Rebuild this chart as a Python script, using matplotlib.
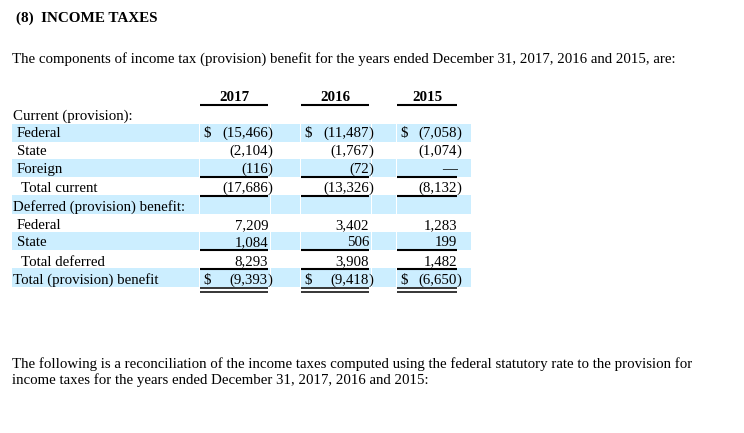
import matplotlib.pyplot as plt
from matplotlib.patches import Rectangle

W, H = 744, 433
SERIF = ["Liberation Serif", "DejaVu Serif"]
SHADE = "#CCEEFF"

years = ["2017", "2016", "2015"]
row_labels = ["Current (provision):", "Federal", "State", "Foreign", "Total current",
              "Deferred (provision) benefit:", "Federal", "State", "Total deferred",
              "Total (provision) benefit"]
federal_current = [-15466, -11487, -7058]
state_current = [-2104, -1767, -1074]
foreign_current = [-116, -72, None]
total_current = [-17686, -13326, -8132]
federal_deferred = [7209, 3402, 1283]
state_deferred = [1084, 506, 199]
total_deferred = [8293, 3908, 1482]
total_benefit = [-9393, -9418, -6650]

row_values = [None, federal_current, state_current, foreign_current, total_current,
              None, federal_deferred, state_deferred, total_deferred, total_benefit]
row_indent = [13, 17, 17, 17, 21, 13, 17, 17, 21, 13]
row_shaded = [False, True, False, True, False, True, False, True, False, True]
row_dollar = [False, True, False, False, False, False, False, False, False, True]
row_base = [120, 137, 155, 173, 191.5, 211, 229, 246.5, 265.5, 284]
row_top = [106, 124, 141.5, 159, 177, 195, 214, 232, 250, 268]
row_bot = [124, 141.5, 159, 176.5, 195, 214, 232, 250, 268, 287]

# column geometry (pixels)
col_left = [200, 301, 397]
col_right = [268, 369, 457]
shade_segs = [(12, 199), (200, 270), (271, 300), (301, 371), (372, 396), (397, 471)]

fig = plt.figure(figsize=(W / 100, H / 100), dpi=100)
ax = fig.add_axes([0, 0, 1, 1])
ax.set_xlim(0, W)
ax.set_ylim(H, 0)
ax.axis("off")

fs = 10.75
ax.text(16, 22, "(8)  INCOME TAXES", fontsize=10.9, fontweight="bold",
        family=SERIF, va="baseline")
ax.text(12, 63, "The components of income tax (provision) benefit for the years ended "
        "December 31, 2017, 2016 and 2015, are:", fontsize=fs, family=SERIF, va="baseline")

# header
for y, l, r in zip(years, col_left, col_right):
    ax.text((l + r) / 2, 101, y, fontsize=10.8, fontweight="bold", family=SERIF,
            ha="center", va="baseline")
    ax.plot([l, r], [105, 105], color="black", lw=1.5, solid_capstyle="butt")


def fmt(v):
    if v is None:
        return "\u2014", ""
    if v < 0:
        return f"({-v:,}", ")"
    return f"{v:,}", ""


for i, lab in enumerate(row_labels):
    if row_shaded[i]:
        for a, b in shade_segs:
            ax.add_patch(Rectangle((a, row_top[i]), b - a, row_bot[i] - row_top[i],
                                   color=SHADE, lw=0, zorder=0))
    ax.text(row_indent[i], row_base[i], lab, fontsize=fs, family=SERIF, va="baseline")
    vals = row_values[i]
    if vals is None:
        continue
    for j, v in enumerate(vals):
        s, close = fmt(v)
        ax.text(col_right[j], row_base[i], s, fontsize=fs, family=SERIF,
                ha="right", va="baseline")
        if close:
            ax.text(col_right[j], row_base[i], close, fontsize=fs, family=SERIF,
                    ha="left", va="baseline")
        if row_dollar[i]:
            ax.text(col_left[j] + 3, row_base[i], "$", fontsize=fs, family=SERIF,
                    ha="left", va="baseline")

# underlines
for y in [177, 195.5, 250, 268.5]:
    for l, r in zip(col_left, col_right):
        ax.plot([l, r], [y, y], color="black", lw=1.5, solid_capstyle="butt")
for y in [288, 291.5]:
    for l, r in zip(col_left, col_right):
        ax.plot([l, r], [y, y], color="black", lw=1.1, solid_capstyle="butt")

ax.text(12, 368, "The following is a reconciliation of the income taxes computed using the "
        "federal statutory rate to the provision for", fontsize=fs, family=SERIF, va="baseline")
ax.text(12, 384, "income taxes for the years ended December 31, 2017, 2016 and 2015:",
        fontsize=fs, family=SERIF, va="baseline")

fig.savefig("out.png", dpi=100)
